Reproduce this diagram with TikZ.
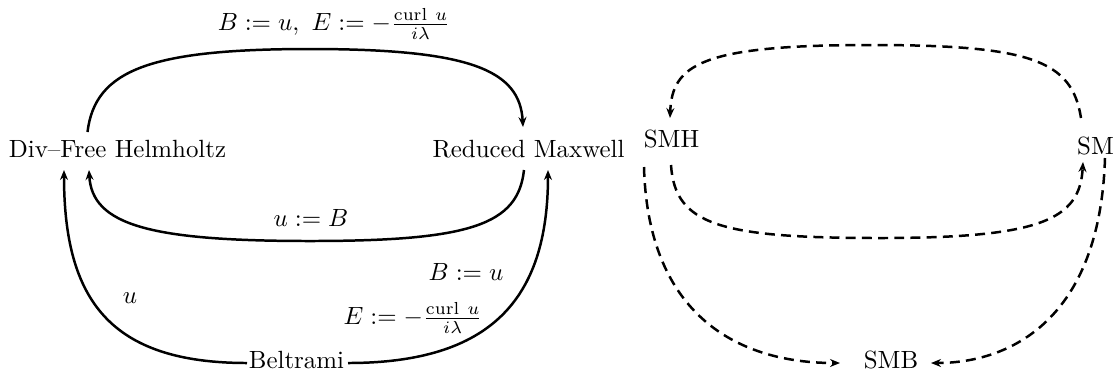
\documentclass[tikz,border=0pt]{standalone}
\usepackage{amsmath}
\usetikzlibrary{arrows.meta}
\begin{document}
\begin{tikzpicture}[x=0.4016pt,y=-0.4016pt,
  obj/.style={anchor=base, inner sep=0pt, text height=7pt, text depth=3pt},
  conn/.style={line width=1pt},
  arr/.style={-{Stealth[length=4pt,width=3.2pt]}},
  dconn/.style={line width=1pt, dash pattern=on 4pt off 2.5pt},
  lbl/.style={inner sep=0pt}]
\useasboundingbox (0,0) rectangle (1115,376);
% nodes
\node[obj] (dfh) at (117.5,157) {Div--Free Helmholtz};
\node[obj] (rm)  at (528.5,157) {Reduced Maxwell};
\node[obj] (bel) at (296.5,368) {Beltrami};
\node[obj] (smh) at (671.5,147) {SMH};
\node[obj] (sm)  at (1095.5,154) {SM};
\node[obj] (smb) at (891,368) {SMB};
% labels
\node[lbl] (ltop) at (334,24) {$B := u,\ E := -\frac{\mathrm{curl}\ u}{i\lambda}$};
\node[lbl] (lub) at (311,218) {$u := B$};
\node[lbl] (lu) at (130,298) {$u$};
\node[lbl] (lbu) at (466,272) {$B := u$};
\node[lbl] (le) at (413,318) {$E := -\frac{\mathrm{curl}\ u}{i\lambda}$};
% solid connectors
\draw[conn,arr] ([shift={(-30,-25)}]dfh.base) .. controls +(7.5,-62) and +(-160,0) .. (310,49)
  .. controls +(160,0) and +(-3,-57) .. ([shift={(-5.5,-30)}]rm.base);
\draw[conn,arr] ([shift={(-4.5,13)}]rm.base) .. controls +(-6,55) and +(160,0) .. (310,241)
  .. controls +(-160,0) and +(3,55) .. ([shift={(-28.5,13)}]dfh.base);
\draw[conn,arr] ([shift={(-49.5,-5)}]bel.base) .. controls +(-137,0) and +(0,130) .. ([shift={(-53.5,13)}]dfh.base);
\draw[conn,arr] ([shift={(51.5,-5)}]bel.base) .. controls +(142,0) and +(0,130) .. ([shift={(19.5,13)}]rm.base);
% dashed connectors
\draw[dconn,arr] ([shift={(-14.5,-36)}]sm.base) .. controls +(-9,-58) and +(160,0) .. (870,45)
  .. controls +(-170,0) and +(2,-53) .. ([shift={(-1.5,-29)}]smh.base);
\draw[dconn,arr] ([shift={(-0.5,18)}]smh.base) .. controls +(4,60) and +(-160,0) .. (880,238)
  .. controls +(160,0) and +(-3,58) .. ([shift={(-12.5,8)}]sm.base);
\draw[dconn,arr] ([shift={(-27.5,20)}]smh.base) .. controls +(4,150) and +(-100,0) .. ([shift={(-51,-5)}]smb.base);
\draw[dconn,arr] ([shift={(9.5,4)}]sm.base) .. controls +(-5,162) and +(79,0) .. ([shift={(40,-5)}]smb.base);
\end{tikzpicture}
\end{document}
